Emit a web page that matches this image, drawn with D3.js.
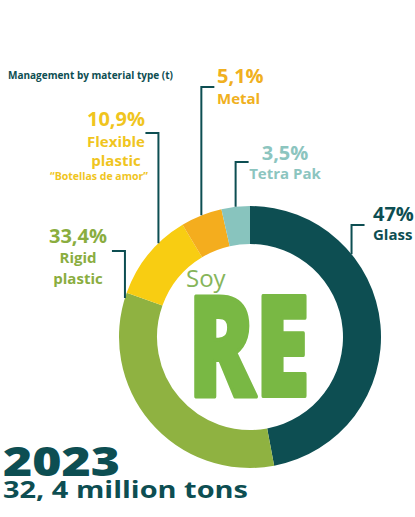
<!DOCTYPE html>
<html>
<head>
<meta charset="utf-8">
<script src="https://cdn.jsdelivr.net/npm/d3@7"></script>
<style>
  html, body { margin: 0; padding: 0; background: #fff; }
  svg text { font-family: "Open Sans", "Noto Sans", sans-serif; }
</style>
</head>
<body>
<div id="chart"></div>
<script>
/************ data *****************/
const materials = ["Glass", "Rigid plastic", "Flexible plastic", "Metal", "Tetra Pak"];
const shares = [47, 33.4, 10.9, 5.1, 3.5];
const shareLabels = ["47%", "33,4%", "10,9%", "5,1%", "3,5%"];
const nameLines = [["Glass"], ["Rigid", "plastic"], ["Flexible", "plastic"], ["Metal"], ["Tetra Pak"]];
const year = "2023";
const total = "32, 4 million tons";

/************ styles / layout *****************/
const sliceColors = ["#0d4e52", "#8fb241", "#f8cd12", "#f4ad1e", "#88c4be"];
const labelColors = ["#0d4e52", "#8aad3f", "#f0c51e", "#f0b020", "#8cc5bf"];
const teal = "#0d4e52";

const width = 415, height = 517;
const cx = 250, cy = 337, outerR = 131, innerR = 93;

// where along each slice the leader starts, bracket height, bracket direction
const leaders = [
  {t: 0.30, y: 225, dir: 1},
  {t: 0.98, y: 251, dir: -1},
  {t: 0.66, y: 133, dir: -1},
  {t: 0.50, y: 87, dir: 1},
  {t: 0.50, y: 162, dir: 1}
];
// label blocks: x, anchor, baseline of percentage, baselines of name lines
const labelPos = [
  {x: 373, anchor: "start", py: 221, ny: [240]},
  {x: 78, anchor: "middle", py: 243, ny: [263, 284]},
  {x: 116, anchor: "middle", py: 126, ny: [147, 166]},
  {x: 217, anchor: "start", py: 83, ny: [104]},
  {x: 285, anchor: "middle", py: 160, ny: [179]}
];

const svg = d3.select("#chart").append("svg")
    .attr("width", width)
    .attr("height", height);

const pie = d3.pie().sort(null).value(d => d)
    .startAngle(0).endAngle(2 * Math.PI);
const arcs = pie(shares);

const arc = d3.arc().innerRadius(innerR).outerRadius(outerR);

const g = svg.append("g").attr("transform", `translate(${cx},${cy})`);

g.selectAll("path.slice")
  .data(arcs)
  .enter().append("path")
  .attr("class", "slice")
  .attr("d", arc)
  .attr("fill", (d, i) => sliceColors[i]);

// leader brackets
svg.selectAll("path.leader")
  .data(arcs)
  .enter().append("path")
  .attr("class", "leader")
  .attr("d", (d, i) => {
    let L = leaders[i];
    let a = d.startAngle + L.t * (d.endAngle - d.startAngle);
    let x = cx + outerR * Math.sin(a);
    let y = cy - outerR * Math.cos(a);
    return `M${x},${y}V${L.y}h${13 * L.dir}`;
  })
  .attr("fill", "none")
  .attr("stroke", teal)
  .attr("stroke-width", 2);

// labels
const labels = svg.selectAll("g.label")
  .data(materials)
  .enter().append("g")
  .attr("class", "label")
  .attr("fill", (d, i) => labelColors[i])
  .attr("text-anchor", (d, i) => labelPos[i].anchor);

labels.append("text")
  .attr("x", (d, i) => labelPos[i].x)
  .attr("y", (d, i) => labelPos[i].py)
  .attr("font-size", 20)
  .attr("font-weight", 700)
  .text((d, i) => shareLabels[i]);

labels.each(function(d, i) {
  d3.select(this).selectAll("text.name")
    .data(nameLines[i])
    .enter().append("text")
    .attr("class", "name")
    .attr("x", labelPos[i].x)
    .attr("y", (s, j) => labelPos[i].ny[j])
    .attr("font-size", 15)
    .attr("font-weight", 700)
    .text(s => s);
});

svg.append("text")
  .attr("x", 148).attr("y", 180)
  .attr("text-anchor", "end")
  .attr("font-size", 10)
  .attr("font-weight", 700)
  .attr("fill", labelColors[2])
  .attr("textLength", 98)
  .attr("lengthAdjust", "spacingAndGlyphs")
  .text("\u201cBotellas de amor\u201d");

svg.append("text")
  .attr("x", 8).attr("y", 79)
  .attr("font-size", 10)
  .attr("font-weight", 700)
  .attr("fill", teal)
  .text("Management by material type (t)");

// centre logo
svg.append("text")
  .attr("x", 186).attr("y", 287)
  .attr("font-size", 24)
  .attr("fill", "#86b55a")
  .text("Soy");

svg.append("text")
  .attr("x", 188).attr("y", 396)
  .attr("font-size", 140)
  .attr("font-weight", 800)
  .attr("fill", "#79b844")
  .attr("stroke", "#79b844")
  .attr("stroke-width", 4)
  .attr("stroke-linejoin", "round")
  .attr("textLength", 122)
  .attr("lengthAdjust", "spacingAndGlyphs")
  .text("RE");

// footer
svg.append("text")
  .attr("x", 3).attr("y", 476)
  .attr("font-size", 40)
  .attr("font-weight", 800)
  .attr("fill", teal)
  .attr("textLength", 117)
  .attr("lengthAdjust", "spacingAndGlyphs")
  .text(year);

svg.append("text")
  .attr("x", 3).attr("y", 498)
  .attr("font-size", 23)
  .attr("font-weight", 700)
  .attr("fill", teal)
  .attr("textLength", 245)
  .attr("lengthAdjust", "spacingAndGlyphs")
  .text(total);
</script>
</body>
</html>
